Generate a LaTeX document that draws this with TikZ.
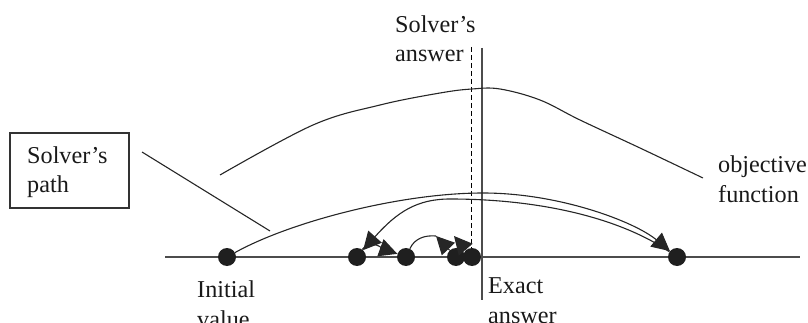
\documentclass[tikz,border=0pt]{standalone}
\usepackage{fontspec}
\setmainfont{Liberation Serif}
\usetikzlibrary{arrows.meta}
\begin{document}
\begin{tikzpicture}[x=1pt,y=-1pt,
  ln/.style={line width=1.1pt, draw=black!85},
  arr/.style={ln, -{Triangle[length=18pt,width=18pt]}},
  dot/.style={circle, fill=black!88, inner sep=0pt, minimum size=18pt},
  lbl/.style={anchor=base west, align=left, inner sep=0pt, font=\fontsize{24.2}{29.5}\selectfont, text=black!90}]
\useasboundingbox (0,0) rectangle (808,323);
\clip (0,0) rectangle (808,323);
% axis
\coordinate (ax1) at (165,257);
\coordinate (ax2) at (800,257);
\draw[ln, draw=black!70] (ax1) -- (ax2);
% verticals
\coordinate (ex1) at (482,48);
\coordinate (ex2) at (482,300);
\draw[ln, draw=black!70] (ex1) -- (ex2);
\coordinate (sa1) at (471,47);
\coordinate (sa2) at (471,250);
\draw[line width=1pt, dash pattern=on 5pt off 3pt] (sa1) -- (sa2);
% objective function
\draw[ln] plot[smooth, tension=0.6] coordinates {(220,175) (313,125) (380,105) (440,93) (472,89) (500,89) (540,100) (580,120) (640,148) (703,178)};
% dots
\node[dot] (init) at (227,257) {};
\node[dot] (A) at (357,257) {};
\node[dot] (B) at (406,257) {};
\node[dot] (C) at (456,257) {};
\node[dot] (D) at (472,257) {};
\node[dot] (E) at (677,257) {};
% solver path
\coordinate (m1) at (483,193);
\draw[arr] (init) .. controls (290,222) and (400,193) .. (m1) .. controls (560,193) and (635,222) .. (E);
\coordinate (m2) at (450,199);
\draw[arr] (E) .. controls (620,218) and (540,199) .. (m2) .. controls (417,199) and (397,212) .. (A);
\draw[arr] (A) to[out=55,in=160] (B);
\coordinate (t1) at (436,236);
\coordinate (t2) at (454,236);
\draw[ln] (B) to[out=65,in=175] (t1);
\draw[arr] (C) -- (t1);
\draw[arr] (D) -- (t2);
% pointer
\coordinate (p1) at (142,152);
\coordinate (p2) at (270,231);
\draw[ln] (p1) -- (p2);
% box
\node[draw=black!80, line width=1.1pt, minimum width=119pt, minimum height=75pt, inner sep=0pt] (box) at (69.5,170.5) {};
\node[lbl] (boxt) at (27,193) {Solver’s\\path};
% labels
\node[lbl] (sat) at (395,62) {Solver’s\\answer};
\node[lbl] (ivt) at (197,327) {Initial\\value};
\node[lbl] (ext) at (488,323) {Exact\\answer};
\node[lbl] (oft) at (718,202) {objective\\function};
\end{tikzpicture}
\end{document}
